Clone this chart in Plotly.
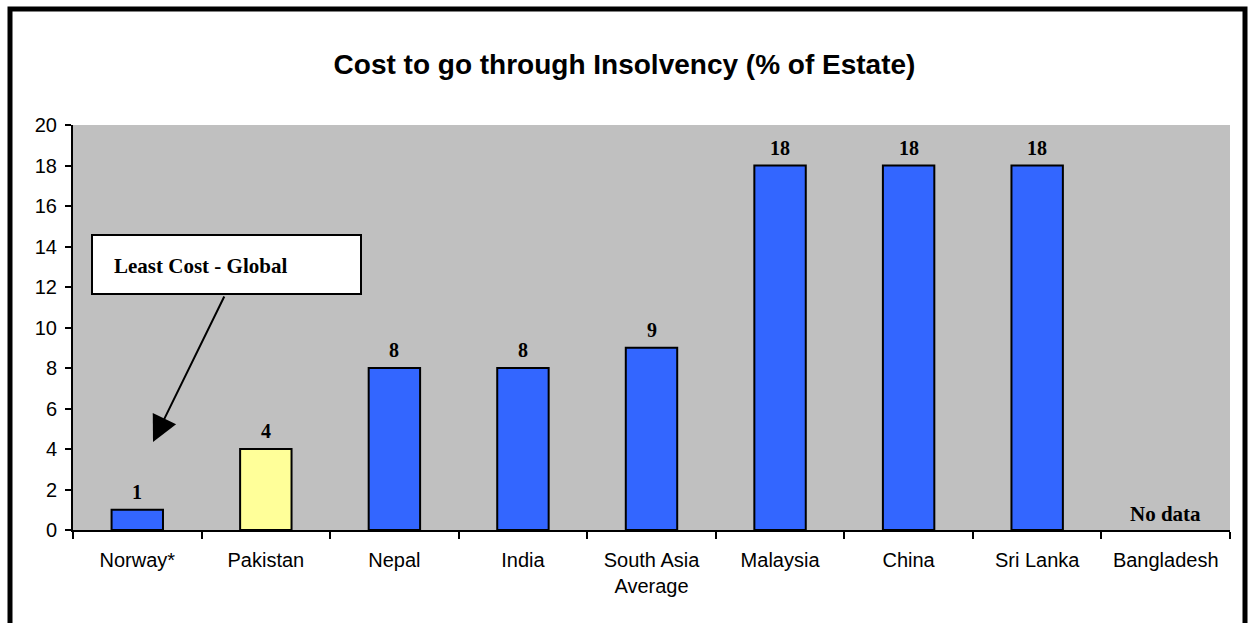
import plotly.graph_objects as go

# Insolvency cost by country, % of estate
countries = ["Norway*", "Pakistan", "Nepal", "India", "South Asia<br>Average",
             "Malaysia", "China", "Sri Lanka", "Bangladesh"]
cost_pct = [1, 4, 8, 8, 9, 18, 18, 18, None]
bar_colors = ["#3366FF", "#FFFF99", "#3366FF", "#3366FF", "#3366FF",
              "#3366FF", "#3366FF", "#3366FF", "#3366FF"]
y_ticks = list(range(0, 21, 2))

W, H = 1249, 623
ML, MR, MT, MB = 73, 19, 125, 93
PW, PH = W - ML - MR, H - MT - MB


def px_x(px):
    return (px - ML) / PW


def px_y(py):
    return (H - MB - py) / PH


fig = go.Figure()
fig.add_trace(go.Bar(
    x=countries,
    y=cost_pct,
    marker=dict(color=bar_colors, line=dict(color="black", width=2)),
    hoverinfo="skip",
))

# Value labels above each bar
for c, v in zip(countries, cost_pct):
    if v is None:
        continue
    fig.add_annotation(
        x=c, y=v, text=f"<b>{v}</b>", showarrow=False,
        yanchor="bottom", yshift=5,
        font=dict(family="Liberation Serif", size=20, color="black"),
    )

fig.update_layout(
    width=W, height=H,
    margin=dict(l=ML, r=MR, t=MT, b=MB),
    paper_bgcolor="white",
    plot_bgcolor="#C0C0C0",
    bargap=0.6,
    showlegend=False,
    title=dict(
        text="<b>Cost to go through Insolvency (% of Estate)</b>",
        font=dict(family="Liberation Sans", size=28, color="black"),
        x=0.5, xanchor="center", y=1 - 64 / H, yanchor="middle",
    ),
    font=dict(family="Liberation Sans", color="black"),
)

fig.update_xaxes(
    type="category",
    showline=True, linecolor="black", linewidth=2,
    ticks="outside", ticklen=7, tickwidth=2, tickcolor="black",
    tickson="boundaries",
    tickfont=dict(family="Liberation Sans", size=20, color="black"),
    ticklabelstandoff=11,
    showgrid=False,
)
fig.update_yaxes(
    range=[0, 20], tickvals=y_ticks,
    showline=True, linecolor="black", linewidth=2,
    ticks="outside", ticklen=6, tickwidth=2, tickcolor="black",
    tickfont=dict(family="Liberation Sans", size=20, color="black"),
    ticklabelstandoff=4,
    showgrid=False, zeroline=False,
)

# "No data" marker for the missing category
fig.add_annotation(
    x="Bangladesh", y=0, text="<b>No data</b>", showarrow=False,
    yanchor="bottom", yshift=2,
    font=dict(family="Liberation Serif", size=21, color="black"),
)

# Callout box with arrow to the global least-cost bar
fig.add_shape(
    type="rect", xref="paper", yref="paper",
    x0=px_x(92), x1=px_x(361), y0=px_y(294), y1=px_y(235),
    fillcolor="white", line=dict(color="black", width=2), layer="above",
)
fig.add_annotation(
    xref="paper", yref="paper", x=px_x(112), y=px_y(266),
    xanchor="left", yanchor="middle", showarrow=False,
    text="<b>Least Cost - Global</b>",
    font=dict(family="Liberation Serif", size=21, color="black"),
)
fig.add_annotation(
    xref="paper", yref="paper", axref="pixel", ayref="pixel",
    x=px_x(153), y=px_y(442), ax=225 - 153, ay=295 - 442,
    text="", showarrow=True, arrowhead=2, arrowsize=2.6, arrowwidth=2,
    arrowcolor="black",
)

# Heavy outer frame
fig.add_shape(
    type="rect", xref="paper", yref="paper",
    x0=px_x(10), x1=px_x(1245), y0=px_y(700), y1=px_y(9),
    line=dict(color="black", width=5), fillcolor="rgba(0,0,0,0)", layer="above",
)

fig.write_html("out.html")
